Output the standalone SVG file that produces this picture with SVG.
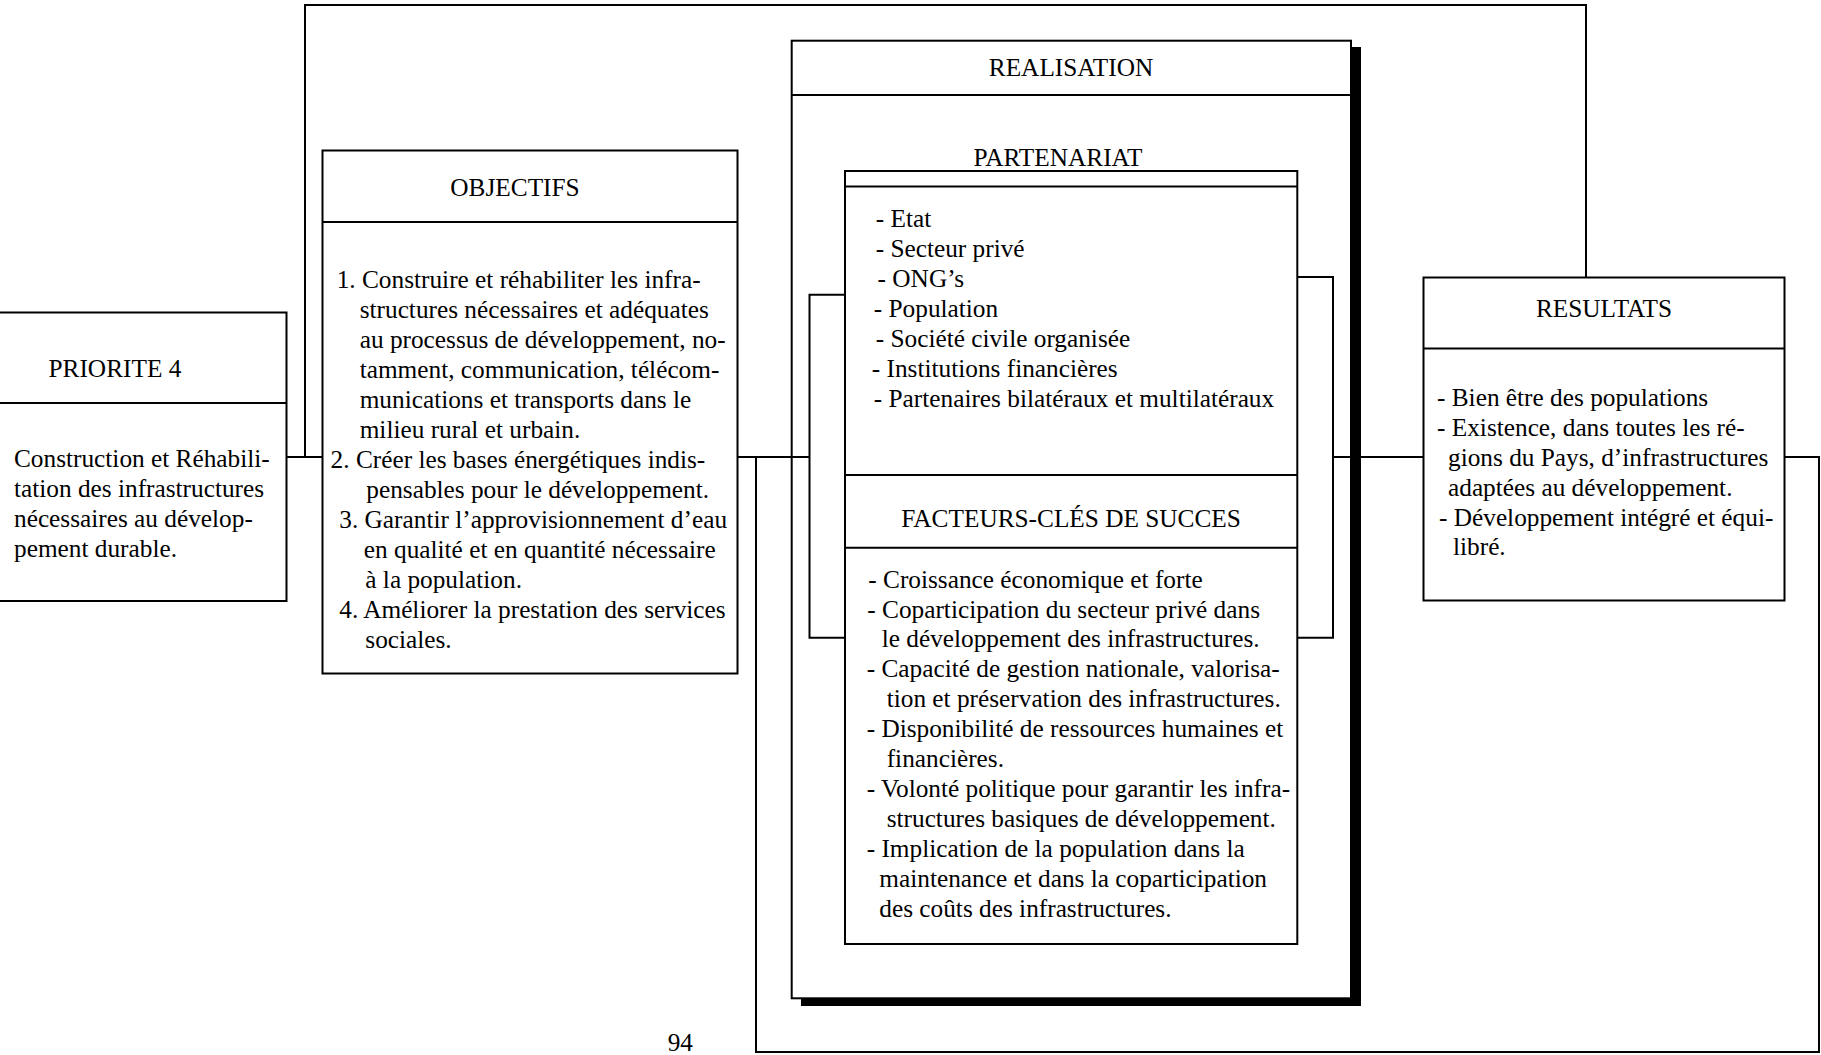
<svg xmlns="http://www.w3.org/2000/svg" width="1821" height="1055" viewBox="0 0 1821 1055">
<style>
  .box { fill: #fff; stroke: #000; stroke-width: 2; }
  .ln { fill: none; stroke: #000; stroke-width: 2; }
  .shadow { fill: #000; stroke: none; }
  text { font-family: "Liberation Serif", "Times New Roman", serif; font-size: 25.3px; fill: #000; }
  .c { text-anchor: middle; }
</style>
<rect x="0" y="0" width="1821" height="1055" fill="#fff"/>

<g id="priorite">
  <rect class="box" x="-2" y="312.5" width="288.5" height="288.5"/>
  <line class="ln" x1="-2" y1="403" x2="286.5" y2="403"/>
  <text x="48.5" y="377">PRIORITE 4</text>
  <text x="14" y="467">Construction et Réhabili-</text>
  <text x="14" y="497">tation des infrastructures</text>
  <text x="14" y="527">nécessaires au dévelop-</text>
  <text x="14" y="557">pement durable.</text>
</g>

<g id="objectifs">
  <rect class="box" x="322.5" y="150.5" width="415" height="523"/>
  <line class="ln" x1="322.5" y1="222" x2="737.5" y2="222"/>
  <text class="c" x="515" y="196">OBJECTIFS</text>
  <text x="336.7" y="288">1. Construire et réhabiliter les infra-</text>
  <text x="359.7" y="318">structures nécessaires et adéquates</text>
  <text x="359.7" y="348">au processus de développement, no-</text>
  <text x="359.7" y="378">tamment, communication, télécom-</text>
  <text x="359.7" y="408">munications et transports dans le</text>
  <text x="359.7" y="437.5">milieu rural et urbain.</text>
  <text x="330.6" y="467.5">2. Créer les bases énergétiques indis-</text>
  <text x="366.3" y="497.5">pensables pour le développement.</text>
  <text x="339.3" y="528">3. Garantir l’approvisionnement d’eau</text>
  <text x="363.8" y="558">en qualité et en quantité nécessaire</text>
  <text x="365.3" y="588">à la population.</text>
  <text x="339.3" y="618">4. Améliorer la prestation des services</text>
  <text x="365.3" y="648">sociales.</text>
</g>

<g id="realisation">
  <rect class="shadow" x="801" y="47" width="560" height="959"/>
  <rect class="box" x="791.7" y="40.7" width="559.3" height="957.6"/>
  <line class="ln" x1="791.7" y1="95" x2="1351" y2="95"/>
  <text class="c" x="1071" y="76">REALISATION</text>
  <text class="c" x="1058" y="166">PARTENARIAT</text>
</g>

<g id="partenariat">
  <rect class="box" x="845" y="171" width="452.3" height="773"/>
  <line class="ln" x1="845" y1="186.5" x2="1297.3" y2="186.5"/>
  <text x="875.7" y="226.7">- Etat</text>
  <text x="875.7" y="256.7">- Secteur privé</text>
  <text x="877.6" y="286.7">- ONG’s</text>
  <text x="873.8" y="316.7">- Population</text>
  <text x="875.7" y="346.7">- Société civile organisée</text>
  <text x="871.8" y="376.7">- Institutions financières</text>
  <text x="873.8" y="406.7">- Partenaires bilatéraux et multilatéraux</text>
</g>

<g id="facteurs">
  <line class="ln" x1="845" y1="475" x2="1297.3" y2="475"/>
  <line class="ln" x1="845" y1="547.7" x2="1297.3" y2="547.7"/>
  <text class="c" x="1071" y="526.7">FACTEURS-CLÉS DE SUCCES</text>
  <text x="868.3" y="587.7">- Croissance économique et forte</text>
  <text x="867.3" y="617.7">- Coparticipation du secteur privé dans</text>
  <text x="881.7" y="646.7">le développement des infrastructures.</text>
  <text x="866.7" y="676.7">- Capacité de gestion nationale, valorisa-</text>
  <text x="886.7" y="706.7">tion et préservation des infrastructures.</text>
  <text x="866.7" y="736.7">- Disponibilité de ressources humaines et</text>
  <text x="886.7" y="766.7">financières.</text>
  <text x="866.7" y="796.7">- Volonté politique pour garantir les infra-</text>
  <text x="886.7" y="826.5">structures basiques de développement.</text>
  <text x="866.7" y="856.7">- Implication de la population dans la</text>
  <text x="879.3" y="886.7">maintenance et dans la coparticipation</text>
  <text x="879.3" y="916.5">des coûts des infrastructures.</text>
</g>

<g id="resultats">
  <rect class="box" x="1423.5" y="277.5" width="361" height="323"/>
  <line class="ln" x1="1423.5" y1="348.5" x2="1784.5" y2="348.5"/>
  <text class="c" x="1604" y="317">RESULTATS</text>
  <text x="1437" y="406">- Bien être des populations</text>
  <text x="1437" y="436">- Existence, dans toutes les ré-</text>
  <text x="1448" y="466">gions du Pays, d’infrastructures</text>
  <text x="1448" y="495.5">adaptées au développement.</text>
  <text x="1439" y="525.5">- Développement intégré et équi-</text>
  <text x="1453" y="555">libré.</text>
</g>

<g id="connectors">
  <path class="ln" d="M286.5,457 H322.5"/>
  <path class="ln" d="M305,457 V5 H1586 V277.5"/>
  <path class="ln" d="M737.5,457 H809.5"/>
  <path class="ln" d="M845,294.7 H809.5 V637.7 H845"/>
  <path class="ln" d="M1297.3,277 H1333 V637.7 H1297.3"/>
  <path class="ln" d="M1333,457 H1423.5"/>
  <path class="ln" d="M756,457 V1052 H1819 V457 H1784.5"/>
</g>

<g id="page-number">
  <text x="667.7" y="1051">94</text>
</g>
</svg>
